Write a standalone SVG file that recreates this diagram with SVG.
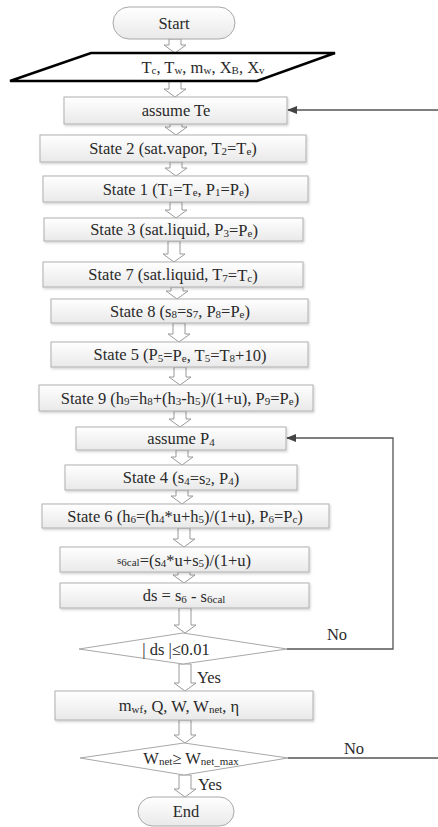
<svg xmlns="http://www.w3.org/2000/svg" width="438" height="827" viewBox="0 0 438 827">
<style>
text{font-family:"Liberation Serif","Times New Roman",serif;font-size:16.5px;fill:#2a2a2a;text-anchor:middle;dominant-baseline:central}
.box{fill:url(#g);stroke:#b0b0b0;stroke-width:1;filter:url(#sh)}
.term{fill:url(#g);stroke:#a8a8a8;stroke-width:1}
.dia{fill:#fff;stroke:#a8a8a8;stroke-width:1}
.ba{fill:#fff;stroke:#9a9a9a;stroke-width:1}
.ln{fill:none;stroke:#555;stroke-width:1.3}
.s{font-size:11px}
</style>
<defs>
<linearGradient id="g" x1="0" y1="0" x2="0" y2="1"><stop offset="0" stop-color="#ffffff"/><stop offset="1" stop-color="#e9e9e9"/></linearGradient>
<filter id="sh" x="-5%" y="-20%" width="110%" height="150%"><feDropShadow dx="1" dy="1.5" stdDeviation="1" flood-color="#000" flood-opacity="0.18"/></filter>
<marker id="ah" markerWidth="10" markerHeight="8" refX="9" refY="4" orient="auto" markerUnits="userSpaceOnUse"><path d="M0,0 L10,4 L0,8 z" fill="#444"/></marker>
</defs>
<g id="connectors">
<path class="ba" d="M169,39 H181 V45 H186 L175,53 L164,45 H169 Z"/>
<path class="ba" d="M169,81 H181 V89 H186 L175,97 L164,89 H169 Z"/>
<path class="ba" d="M170,124 H182 V127 H187 L176,135 L165,127 H170 Z"/>
<path class="ba" d="M170,162 H182 V168 H187 L176,176 L165,168 H170 Z"/>
<path class="ba" d="M170,202 H182 V210 H187 L176,218 L165,210 H170 Z"/>
<path class="ba" d="M168,241 H180 V254 H185 L174,262 L163,254 H168 Z"/>
<path class="ba" d="M171,287 H183 V291 H188 L177,299 L166,291 H171 Z"/>
<path class="ba" d="M173,323 H185 V334 H190 L179,342 L168,334 H173 Z"/>
<path class="ba" d="M174,367 H186 V377 H191 L180,385 L169,377 H174 Z"/>
<path class="ba" d="M174,411 H186 V419 H191 L180,427 L169,419 H174 Z"/>
<path class="ba" d="M176,450 H188 V457 H193 L182,465 L171,457 H176 Z"/>
<path class="ba" d="M176,490 H188 V496 H193 L182,504 L171,496 H176 Z"/>
<path class="ba" d="M178,528 H190 V539 H195 L184,547 L173,539 H178 Z"/>
<path class="ba" d="M178,572 H190 V575 H195 L184,583 L173,575 H178 Z"/>
<path class="ba" d="M179,608 H191 V625 H196 L185,633 L174,625 H179 Z"/>
<path class="ba" d="M179,664 H191 V683 H196 L185,691 L174,683 H179 Z"/>
<path class="ba" d="M179,720 H191 V735 H196 L185,743 L174,735 H179 Z"/>
<path class="ba" d="M179,775 H191 V789 H196 L185,797 L174,789 H179 Z"/>
<path class="ln" d="M438,110 H288" marker-end="url(#ah)"/>
<path class="ln" d="M287,649 H393 V438 H287" marker-end="url(#ah)"/>
<path class="ln" d="M288,758 H438"/>
<text x="337" y="634">No</text>
<text x="209" y="677">Yes</text>
<text x="354" y="748">No</text>
<text x="210" y="784">Yes</text>
</g>
<g id="start"><rect class="term" x="113" y="7" width="122" height="32" rx="16"/><text x="174" y="23">Start</text></g>
<g id="input"><polygon points="91,53 335,53 257,81 10,81" fill="#fff" stroke="#000" stroke-width="2.5"/>
<text x="203" y="67">T<tspan class="s" dy="3">c</tspan><tspan dy="-3">, T</tspan><tspan class="s" dy="3">w</tspan><tspan dy="-3">, m</tspan><tspan class="s" dy="3">w</tspan><tspan dy="-3">, X</tspan><tspan class="s" dy="3">B</tspan><tspan dy="-3">, X</tspan><tspan class="s" dy="3">v</tspan></text></g>
<g id="assumeTe"><rect class="box" x="64" y="97" width="223" height="27"/><text x="176" y="110">assume Te</text></g>
<g id="state2"><rect class="box" x="40" y="135" width="266" height="27"/><text x="173" y="148">State 2 (sat.vapor, T<tspan class="s" dy="3">2</tspan><tspan dy="-3">=T</tspan><tspan class="s" dy="3">e</tspan><tspan dy="-3">)</tspan></text></g>
<g id="state1"><rect class="box" x="43" y="176" width="265" height="26"/><text x="176" y="189">State 1 (T<tspan class="s" dy="3">1</tspan><tspan dy="-3">=T</tspan><tspan class="s" dy="3">e</tspan><tspan dy="-3">, P</tspan><tspan class="s" dy="3">1</tspan><tspan dy="-3">=P</tspan><tspan class="s" dy="3">e</tspan><tspan dy="-3">)</tspan></text></g>
<g id="state3"><rect class="box" x="44" y="218" width="259" height="23"/><text x="174" y="229.5">State 3 (sat.liquid, P<tspan class="s" dy="3">3</tspan><tspan dy="-3">=P</tspan><tspan class="s" dy="3">e</tspan><tspan dy="-3">)</tspan></text></g>
<g id="state7"><rect class="box" x="43" y="262" width="260" height="25"/><text x="173" y="274.5">State 7 (sat.liquid, T<tspan class="s" dy="3">7</tspan><tspan dy="-3">=T</tspan><tspan class="s" dy="3">c</tspan><tspan dy="-3">)</tspan></text></g>
<g id="state8"><rect class="box" x="51" y="299" width="257" height="24"/><text x="180" y="311">State 8 (s<tspan class="s" dy="3">8</tspan><tspan dy="-3">=s</tspan><tspan class="s" dy="3">7</tspan><tspan dy="-3">, P</tspan><tspan class="s" dy="3">8</tspan><tspan dy="-3">=P</tspan><tspan class="s" dy="3">e</tspan><tspan dy="-3">)</tspan></text></g>
<g id="state5"><rect class="box" x="51" y="342" width="257" height="25"/><text x="180" y="354.5">State 5 (P<tspan class="s" dy="3">5</tspan><tspan dy="-3">=P</tspan><tspan class="s" dy="3">e</tspan><tspan dy="-3">, T</tspan><tspan class="s" dy="3">5</tspan><tspan dy="-3">=T</tspan><tspan class="s" dy="3">8</tspan><tspan dy="-3">+10)</tspan></text></g>
<g id="state9"><rect class="box" x="39" y="385" width="274" height="26"/><text x="180" y="398">State 9 (h<tspan class="s" dy="3">9</tspan><tspan dy="-3">=h</tspan><tspan class="s" dy="3">8</tspan><tspan dy="-3">+(h</tspan><tspan class="s" dy="3">3</tspan><tspan dy="-3">-h</tspan><tspan class="s" dy="3">5</tspan><tspan dy="-3">)/(1+u), P</tspan><tspan class="s" dy="3">9</tspan><tspan dy="-3">=P</tspan><tspan class="s" dy="3">e</tspan><tspan dy="-3">)</tspan></text></g>
<g id="assumeP4"><rect class="box" x="76" y="427" width="210" height="23"/><text x="181" y="438.5">assume P<tspan class="s" dy="3">4</tspan></text></g>
<g id="state4"><rect class="box" x="65" y="465" width="232" height="25"/><text x="181" y="477.5">State 4 (s<tspan class="s" dy="3">4</tspan><tspan dy="-3">=s</tspan><tspan class="s" dy="3">2</tspan><tspan dy="-3">, P</tspan><tspan class="s" dy="3">4</tspan><tspan dy="-3">)</tspan></text></g>
<g id="state6"><rect class="box" x="42" y="504" width="287" height="24"/><text x="185" y="516">State 6 (h<tspan class="s" dy="3">6</tspan><tspan dy="-3">=(h</tspan><tspan class="s" dy="3">4</tspan><tspan dy="-3">*u+h</tspan><tspan class="s" dy="3">5</tspan><tspan dy="-3">)/(1+u), P</tspan><tspan class="s" dy="3">6</tspan><tspan dy="-3">=P</tspan><tspan class="s" dy="3">c</tspan><tspan dy="-3">)</tspan></text></g>
<g id="s6cal"><rect class="box" x="60" y="547" width="249" height="25"/><text x="184" y="559.5"><tspan class="s">s</tspan><tspan class="s" dy="2">6cal</tspan><tspan dy="-2">=(s</tspan><tspan class="s" dy="3">4</tspan><tspan dy="-3">*u+s</tspan><tspan class="s" dy="3">5</tspan><tspan dy="-3">)/(1+u)</tspan></text></g>
<g id="ds"><rect class="box" x="60" y="583" width="249" height="25"/><text x="184" y="595.5">ds = s<tspan class="s" dy="3">6</tspan><tspan dy="-3"> - s</tspan><tspan class="s" dy="3">6cal</tspan></text></g>
<g id="check1"><polygon class="dia" points="183,633 287,649 183,664 79,649"/><text x="176" y="649">| ds |≤0.01</text></g>
<g id="results"><rect class="box" x="55" y="691" width="258" height="29"/><text x="179" y="705.5">m<tspan class="s" dy="3">wf</tspan><tspan dy="-3">, Q, W, W</tspan><tspan class="s" dy="3">net</tspan><tspan dy="-3">, η</tspan></text></g>
<g id="check2"><polygon class="dia" points="184,743 288,758 184,775 80,758"/><text x="191" y="758">W<tspan class="s" dy="3">net</tspan><tspan dy="-3">≥  W</tspan><tspan class="s" dy="3">net_max</tspan></text></g>
<g id="end"><rect class="term" x="138" y="797" width="96" height="29" rx="14.5"/><text x="186" y="811.5">End</text></g>
</svg>
